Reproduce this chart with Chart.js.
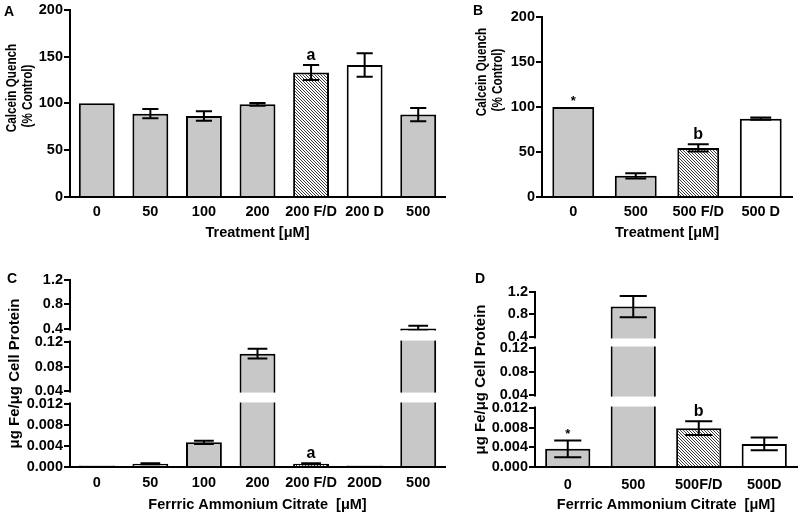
<!DOCTYPE html>
<html>
<head>
<meta charset="utf-8">
<script src="https://cdn.jsdelivr.net/npm/chart.js@4.4.1/dist/chart.umd.min.js"></script>
<style>
  html, body { margin: 0; padding: 0; background: #fff; }
  #wrap { position: relative; width: 800px; height: 516px; overflow: hidden; }
  #wrap canvas { position: absolute; }
</style>
</head>
<body>
<div id="wrap">
  <canvas id="chartA" width="450" height="242" style="left:0;top:0"></canvas>
  <canvas id="chartB" width="330" height="242" style="left:470px;top:0"></canvas>
  <canvas id="chartC" width="450" height="252" style="left:0;top:262px"></canvas>
  <canvas id="chartD" width="330" height="252" style="left:470px;top:262px"></canvas>
</div>
<script>
// Panel A - calcein quench, dose series
const catsA = ['0', '50', '100', '200', '200 F/D', '200 D', '500'];
const meanA = [100, 89, 86.5, 99, 133, 141, 88];
const errA = [0, 5, 5, 1.5, 8, 12.5, 7];
const markA = ['', '', '', '', 'a', '', ''];

// Panel B - calcein quench, 500 uM
const catsB = ['0', '500', '500 F/D', '500 D'];
const meanB = [100, 23.5, 54.5, 87];
const errB = [0, 3, 4, 1.2];
const markB = ['*', '', 'b', ''];

// Panel C - iron content, dose series
const catsC = ['0', '50', '100', '200', '200 F/D', '200D', '500'];
const meanC = [0.0003, 0.0006, 0.0047, 0.101, 0.0006, 0.0003, 0.41];
const errC = [0, 0.0001, 0.0003, 0.008, 0.0001, 0, 0.045];
const markC = ['', '', '', '', 'a', '', ''];

// Panel D - iron content, 500 uM
const catsD = ['0', '500', '500F/D', '500D'];
const meanD = [0.0037, 0.94, 0.0079, 0.0047];
const errD = [0.0017, 0.19, 0.0014, 0.0013];
const markD = ['*', '', 'b', ''];

// broken axis ticks for C and D
const ticksCD = [0, 0.004, 0.008, 0.012, 0.04, 0.08, 0.12, 0.4, 0.8, 1.2];
const tickLabelsCD = ['0.000', '0.004', '0.008', '0.012', '0.04', '0.08', '0.12', '0.4', '0.8', '1.2'];
const gapsCD = [[0.012, 0.04], [0.12, 0.4]];

const FONT = "'Liberation Sans', Arial, Helvetica, sans-serif";
const GREY = '#c8c8c8';

// piecewise linear y scale, used to draw the broken axis
class BrokenScale extends Chart.LinearScale {
  buildTicks() {
    return this.options.tickValues.map(v => ({ value: v }));
  }
  getPixelForValue(value) {
    const br = this.options.breaks;
    const n = br.length;
    let f;
    if (value <= br[0][0]) f = br[0][1];
    else if (value >= br[n - 1][0]) {
      f = br[n - 1][1] + (value - br[n - 1][0]) / (br[n - 1][0] - br[n - 2][0]) * (br[n - 1][1] - br[n - 2][1]);
    } else {
      for (let i = 1; i < n; i++) {
        if (value <= br[i][0]) {
          const t = (value - br[i - 1][0]) / (br[i][0] - br[i - 1][0]);
          f = br[i - 1][1] + t * (br[i][1] - br[i - 1][1]);
          break;
        }
      }
    }
    return this.bottom - f * (this.bottom - this.top);
  }
  getValueForPixel() {
    return 0;
  }
}
BrokenScale.id = 'broken';
Chart.register(BrokenScale);

function hatch() {
  const c = document.createElement('canvas');
  c.width = 3; c.height = 3;
  const g = c.getContext('2d');
  g.fillStyle = '#fff';
  g.fillRect(0, 0, 3, 3);
  g.fillStyle = '#3a3a3a';
  for (let i = 0; i < 3; i++) g.fillRect(i, i, 1, 1);
  return g.createPattern(c, 'repeat');
}
const HATCH = hatch();

function fillFor(label) {
  if (label.includes('F/D')) return HATCH;
  if (label.endsWith('D')) return '#fff';
  return GREY;
}

// error bars, axis gaps, letters above bars, panel letter, side title
const extras = {
  id: 'extras',
  afterDatasetsDraw(chart) {
    const ctx = chart.ctx;
    const ds = chart.data.datasets[0];
    const meta = chart.getDatasetMeta(0);
    const y = chart.scales.y;
    const area = chart.chartArea;
    ctx.save();
    ctx.strokeStyle = '#000';
    ctx.lineWidth = 2;
    const tops = [];
    meta.data.forEach((bar, i) => {
      const v = ds.data[i];
      const e = ds.errors[i];
      const yTop = y.getPixelForValue(v + e);
      const yBot = y.getPixelForValue(Math.max(0, v - e));
      tops.push(Math.min(yTop, bar.y));
      if (!e) return;
      const half = bar.width * ds.capFrac / 2;
      ctx.beginPath();
      ctx.moveTo(bar.x, yTop); ctx.lineTo(bar.x, yBot);
      ctx.moveTo(bar.x - half, yTop); ctx.lineTo(bar.x + half, yTop);
      ctx.moveTo(bar.x - half, yBot); ctx.lineTo(bar.x + half, yBot);
      ctx.stroke();
    });
    (ds.gaps || []).forEach(([lo, hi]) => {
      const a = y.getPixelForValue(hi) + 1.5;
      const b = y.getPixelForValue(lo) - 1.5;
      ctx.fillStyle = '#fff';
      ctx.fillRect(area.left - 2, a, area.right - area.left + 5, b - a);
    });
    ctx.fillStyle = '#000';
    ctx.textAlign = 'center';
    ctx.textBaseline = 'alphabetic';
    meta.data.forEach((bar, i) => {
      const m = ds.marks[i];
      if (!m) return;
      if (m === '*') {
        ctx.font = 'bold 13px ' + FONT;
        ctx.fillText(m, bar.x, tops[i] - 2);
      } else {
        ctx.font = 'bold 16px ' + FONT;
        ctx.fillText(m, bar.x, tops[i] - 5);
      }
    });
    ctx.font = 'bold 14px ' + FONT;
    ctx.textBaseline = 'middle';
    ctx.fillText(ds.panel[0], ds.panel[1], ds.panel[2]);
    if (ds.sideTitle) {
      // condensed lettering, as in the original figure
      ctx.font = ds.sideTitle.font;
      ds.sideTitle.lines.forEach((txt, i) => {
        const [tx, ty] = ds.sideTitle.at[i];
        ctx.save();
        ctx.translate(tx, ty);
        ctx.rotate(-Math.PI / 2);
        ctx.scale(0.78, 1);
        ctx.fillText(txt, 0, 0);
        ctx.restore();
      });
    }
    ctx.restore();
  }
};

function makeChart(id, cats, means, errs, marks, o) {
  const yAxis = {
    ticks: { color: '#000', padding: 1, autoSkip: false, font: { family: FONT, size: 14.5, weight: 'bold' } },
    grid: { drawOnChartArea: false, drawTicks: true, tickLength: 6, color: '#000', lineWidth: 2 },
    border: { color: '#000', width: 2 },
    title: {
      display: !!o.yTitle, text: o.yTitle || '', color: '#000',
      padding: { top: o.yTitlePad || 0, bottom: 0 }, font: { family: FONT, size: 15, weight: 'bold' }
    },
    afterFit: s => { s.width = o.yWidth; }
  };
  if (o.broken) {
    Object.assign(yAxis, {
      type: 'broken', min: 0, max: 1.2,
      tickValues: ticksCD,
      breaks: o.breaks
    });
    yAxis.ticks.callback = v => tickLabelsCD[ticksCD.indexOf(v)];
  } else {
    Object.assign(yAxis, { min: 0, max: 200 });
    yAxis.ticks.stepSize = 50;
  }
  return new Chart(document.getElementById(id), {
    type: 'bar',
    data: {
      labels: cats,
      datasets: [{
        data: means,
        errors: errs,
        marks: marks,
        gaps: o.broken ? gapsCD : null,
        capFrac: o.capFrac,
        panel: o.panel,
        sideTitle: o.sideTitle,
        backgroundColor: cats.map(fillFor),
        borderColor: '#000',
        borderWidth: 2,
        barPercentage: o.barPct,
        categoryPercentage: 1
      }]
    },
    options: {
      responsive: false,
      animation: false,
      events: [],
      layout: { padding: { top: o.padTop, right: o.padRight, left: 0, bottom: 0 } },
      plugins: { legend: { display: false }, tooltip: { enabled: false } },
      scales: {
        x: {
          grid: { display: false, drawTicks: false },
          border: { display: true, color: '#000', width: 2 },
          ticks: {
            color: '#000', padding: o.xTickPad, autoSkip: false, maxRotation: 0, minRotation: 0,
            font: { family: FONT, size: 14.5, weight: 'bold' }
          },
          title: { display: true, text: o.xTitle, color: '#000', padding: 0, font: { family: FONT, size: 14.5, weight: 'bold' } },
          afterFit: s => { s.height = o.xHeight; }
        },
        y: yAxis
      }
    },
    plugins: [extras]
  });
}

const calceinLines = ['Calcein Quench', '(% Control)'];
const calceinFont = 'bold 15px ' + FONT;
const ironTitle = 'μg Fe/μg Cell Protein';

makeChart('chartA', catsA, meanA, errA, markA, {
  sideTitle: { lines: calceinLines, font: calceinFont, at: [[12, 88], [28, 96]] },
  yWidth: 70,
  xTitle: 'Treatment [μM]', xTickPad: 6, xHeight: 45,
  padTop: 8, padRight: 5, barPct: 0.67, capFrac: 0.45, panel: ['A', 9, 12]
});
makeChart('chartB', catsB, meanB, errB, markB, {
  sideTitle: { lines: calceinLines, font: calceinFont, at: [[12, 72], [28, 80]] },
  yWidth: 72,
  xTitle: 'Treatment [μM]', xTickPad: 6, xHeight: 45,
  padTop: 17, padRight: 8, barPct: 0.67, capFrac: 0.5, panel: ['B', 8, 11]
});
makeChart('chartC', catsC, meanC, errC, markC, {
  broken: true, breaks: [[0, 0], [0.012, 0.337], [0.04, 0.406], [0.12, 0.668], [0.4, 0.738], [1.2, 1]],
  yTitle: ironTitle, yTitlePad: 6, yWidth: 70,
  xTitle: 'Ferrric Ammonium Citrate  [μM]', xTickPad: 7, xHeight: 47,
  padTop: 18, padRight: 5, barPct: 0.67, capFrac: 0.55, panel: ['C', 12, 17]
});
makeChart('chartD', catsD, meanD, errD, markD, {
  broken: true, breaks: [[0, 0], [0.012, 0.337], [0.04, 0.411], [0.12, 0.68], [0.4, 0.743], [1.2, 1]],
  yTitle: ironTitle, yTitlePad: 2, yWidth: 65,
  xTitle: 'Ferrric Ammonium Citrate  [μM]', xTickPad: 9, xHeight: 47,
  padTop: 30, padRight: 3, barPct: 0.69, capFrac: 0.6, panel: ['D', 10, 17]
});
</script>
</body>
</html>
